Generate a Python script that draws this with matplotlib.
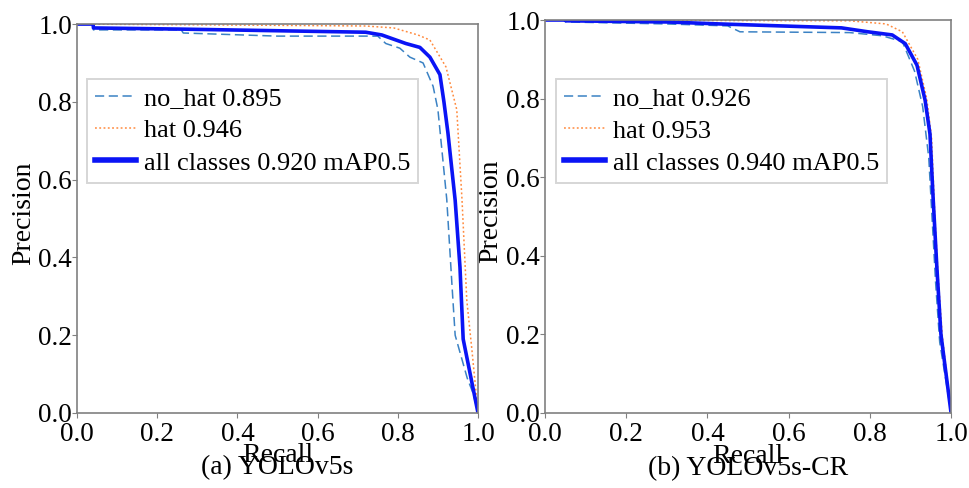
#!/usr/bin/python3
"""PR curves of YOLOv5s vs YOLOv5s-CR (hat / no_hat)."""
import matplotlib
matplotlib.use("Agg")
import matplotlib.pyplot as plt

plt.rcParams['font.family'] = ['Liberation Serif', 'DejaVu Serif']

# (a) YOLOv5s
a_nohat_r = [0, 0.04, 0.041, 0.26, 0.265, 0.5, 0.75, 0.77, 0.805, 0.83, 0.863, 0.888,
             0.9, 0.922, 0.935, 0.943, 0.973, 0.988, 1.0]
a_nohat_p = [1.0, 1.0, 0.985, 0.985, 0.977, 0.969, 0.969, 0.95, 0.938, 0.915, 0.90, 0.84,
             0.78, 0.55, 0.33, 0.2, 0.09, 0.05, 0.0]
a_hat_r = [0, 0.33, 0.72, 0.79, 0.85, 0.88, 0.92, 0.947, 0.96, 0.972, 0.985, 1.0]
a_hat_p = [1.0, 0.998, 0.995, 0.99, 0.972, 0.959, 0.89, 0.78, 0.55, 0.29, 0.16, 0.0]
a_all_r = [0, 0.04, 0.041, 0.26, 0.72, 0.76, 0.82, 0.855, 0.88, 0.905, 0.915, 0.925,
           0.943, 0.955, 0.963, 1.0]
a_all_p = [1.0, 1.0, 0.99, 0.987, 0.979, 0.972, 0.95, 0.94, 0.915, 0.87, 0.80, 0.72,
           0.547, 0.375, 0.19, 0.0]

# (b) YOLOv5s-CR
b_nohat_r = [0, 0.05, 0.051, 0.3, 0.45, 0.48, 0.75, 0.83, 0.88, 0.91, 0.93, 0.945,
             0.953, 0.962, 0.972, 1.0]
b_nohat_p = [1.0, 1.0, 0.995, 0.99, 0.985, 0.97, 0.968, 0.96, 0.945, 0.87, 0.78, 0.65,
             0.5, 0.33, 0.18, 0.0]
b_hat_r = [0, 0.75, 0.84, 0.88, 0.918, 0.94, 0.952, 0.96, 0.968, 0.978, 1.0]
b_hat_p = [1.0, 0.998, 0.99, 0.97, 0.9, 0.8, 0.7, 0.5, 0.35, 0.2, 0.0]
b_all_r = [0, 0.05, 0.051, 0.3, 0.43, 0.73, 0.795, 0.855, 0.887, 0.916, 0.936, 0.948,
           0.956, 0.965, 0.975, 1.0]
b_all_p = [1.0, 1.0, 0.998, 0.995, 0.99, 0.98, 0.97, 0.962, 0.94, 0.885, 0.796, 0.71,
           0.542, 0.37, 0.2, 0.0]

labels_a = ["no_hat 0.895", "hat 0.946", "all classes 0.920 mAP0.5"]
labels_b = ["no_hat 0.926", "hat 0.953", "all classes 0.940 mAP0.5"]
captions = ["(a) YOLOv5s", "(b) YOLOv5s-CR"]
ticks = [0.0, 0.2, 0.4, 0.6, 0.8, 1.0]


def plot_panel(ax, nohat, hat, allc, labels, caption, leg_anchor):
    """Draw one PR panel."""
    ax.plot(nohat[0], nohat[1], color='#3b82c4', lw=1.1, ls=(0, (6, 3)),
            label=labels[0])
    ax.plot(hat[0], hat[1], color='#ff8a3d', lw=1.1, ls=(0, (1.2, 1.6)),
            label=labels[1])
    ax.plot(allc[0], allc[1], color='#0a14f5', lw=2.6, label=labels[2])
    ax.set_xlim(0, 1)
    ax.set_ylim(0, 1)
    ax.set_xticks(ticks)
    ax.set_yticks(ticks)
    ax.set_xticklabels([f"{t:.1f}" for t in ticks])
    ax.set_yticklabels([f"{t:.1f}" for t in ticks])
    ax.tick_params(labelsize=19.5, length=3.5, color='#808080')
    ax.tick_params(axis='y', pad=0)
    ax.tick_params(axis='x', pad=3)
    for spine in ax.spines.values():
        spine.set_color('#808080')
        spine.set_linewidth(1.2)
    ax.set_xlabel("Recall", fontsize=20)
    ax.xaxis.set_label_coords(0.5, -0.078)
    ax.set_ylabel("Precision", fontsize=20)
    ax.yaxis.set_label_coords(-0.102, 0.514)
    ax.text(0.5, -0.157, caption, transform=ax.transAxes, ha='center',
            va='baseline', fontsize=20)
    leg = ax.legend(loc='upper left', bbox_to_anchor=leg_anchor, fontsize=19,
                    fancybox=False, borderaxespad=0, handlelength=1.55,
                    handletextpad=0.3, labelspacing=0.33, borderpad=0.3)
    leg.get_frame().set_edgecolor('#cccccc')
    leg.get_frame().set_linewidth(1.4)
    leg.legend_handles[2].set_linewidth(4)


fig = plt.figure(figsize=(9.7, 4.88), dpi=100)
ax1 = fig.add_axes([0.0794, 0.1537, 0.4134, 0.797])
ax2 = fig.add_axes([0.5619, 0.1537, 0.4186, 0.8053])

plot_panel(ax1, (a_nohat_r, a_nohat_p), (a_hat_r, a_hat_p), (a_all_r, a_all_p),
           labels_a, captions[0], (0.025, 0.859))
plot_panel(ax2, (b_nohat_r, b_nohat_p), (b_hat_r, b_hat_p), (b_all_r, b_all_p),
           labels_b, captions[1], (0.027, 0.85))

fig.savefig("out.png", dpi=100)
